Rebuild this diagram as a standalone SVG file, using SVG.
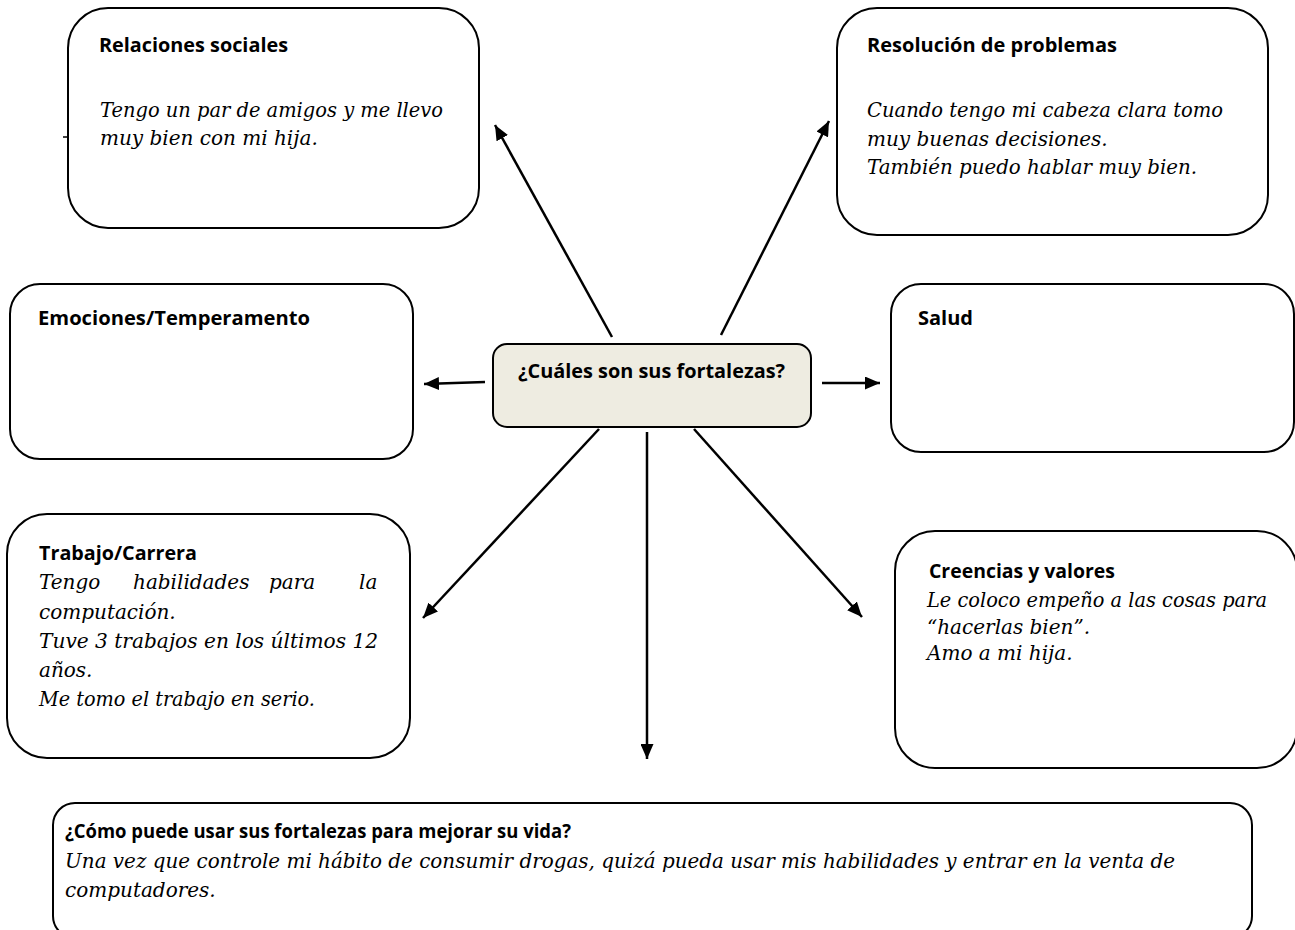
<svg xmlns="http://www.w3.org/2000/svg" width="1295" height="930" viewBox="0 0 1295 930">
<defs>
<marker id="ah" markerUnits="userSpaceOnUse" markerWidth="16" markerHeight="13" refX="15" refY="6.5" orient="auto">
<path d="M0,0 L15,6.5 L0,13 z" fill="#000"/>
</marker>
<style>
.box{fill:#fff;stroke:#000;stroke-width:2}
.center{fill:#EEECE1;stroke:#000;stroke-width:2}
.t{font-family:"Open Sans","Liberation Sans",sans-serif;font-weight:bold;font-size:19.5px;fill:#000}
.i{font-family:"DejaVu Serif","Liberation Serif",serif;font-style:italic;font-size:20px;fill:#000}
.c line{stroke:#000;stroke-width:2.5;marker-end:url(#ah)}
</style>
</defs>
<rect width="1295" height="930" fill="#fff"/>
<g id="relaciones">
<rect class="box" x="68" y="8" width="411" height="220" rx="40"/>
<text class="t" x="99" y="52" textLength="189" lengthAdjust="spacingAndGlyphs">Relaciones sociales</text>
<text class="i" x="100" y="117" textLength="343" lengthAdjust="spacingAndGlyphs">Tengo un par de amigos y me llevo</text>
<text class="i" x="100" y="145">muy bien con mi hija.</text>
<line x1="63" y1="137" x2="68" y2="137" stroke="#000" stroke-width="1.5"/>
</g>
<g id="resolucion">
<rect class="box" x="837" y="8" width="431" height="227" rx="40"/>
<text class="t" x="867" y="52" textLength="250" lengthAdjust="spacingAndGlyphs">Resolución de problemas</text>
<text class="i" x="867" y="117" textLength="356" lengthAdjust="spacingAndGlyphs">Cuando tengo mi cabeza clara tomo</text>
<text class="i" x="867" y="146">muy buenas decisiones.</text>
<text class="i" x="867" y="174" textLength="330" lengthAdjust="spacingAndGlyphs">También puedo hablar muy bien.</text>
</g>
<g id="emociones">
<rect class="box" x="10" y="284" width="403" height="175" rx="30"/>
<text class="t" x="38" y="325" textLength="272" lengthAdjust="spacingAndGlyphs">Emociones/Temperamento</text>
</g>
<g id="salud">
<rect class="box" x="891" y="284" width="403" height="168" rx="30"/>
<text class="t" x="918" y="325" textLength="55" lengthAdjust="spacingAndGlyphs">Salud</text>
</g>
<g id="fortalezas">
<rect class="center" x="493" y="344" width="318" height="83" rx="14"/>
<text class="t" x="518" y="378" textLength="267" lengthAdjust="spacingAndGlyphs">¿Cuáles son sus fortalezas?</text>
</g>
<g id="trabajo">
<rect class="box" x="7" y="514" width="403" height="244" rx="40"/>
<text class="t" x="39" y="560" textLength="158" lengthAdjust="spacingAndGlyphs">Trabajo/Carrera</text>
<text class="i" y="589"><tspan x="39">Tengo</tspan><tspan x="133">habilidades</tspan><tspan x="269">para</tspan><tspan x="359">la</tspan></text>
<text class="i" x="39" y="619">computación.</text>
<text class="i" x="39" y="648" textLength="339" lengthAdjust="spacingAndGlyphs">Tuve 3 trabajos en los últimos 12</text>
<text class="i" x="39" y="677">años.</text>
<text class="i" x="39" y="706" textLength="276" lengthAdjust="spacingAndGlyphs">Me tomo el trabajo en serio.</text>
</g>
<g id="creencias">
<rect class="box" x="895" y="531" width="402" height="237" rx="40"/>
<text class="t" x="929" y="578" textLength="186" lengthAdjust="spacingAndGlyphs">Creencias y valores</text>
<text class="i" x="927" y="607" textLength="340" lengthAdjust="spacingAndGlyphs">Le coloco empeño a las cosas para</text>
<text class="i" x="927" y="634">“hacerlas bien”.</text>
<text class="i" x="927" y="660">Amo a mi hija.</text>
</g>
<g id="mejorar">
<rect class="box" x="53" y="803" width="1199" height="135" rx="22"/>
<text class="t" x="65" y="838" textLength="506" lengthAdjust="spacingAndGlyphs">¿Cómo puede usar sus fortalezas para mejorar su vida?</text>
<text class="i" x="65" y="868" textLength="1110" lengthAdjust="spacingAndGlyphs">Una vez que controle mi hábito de consumir drogas, quizá pueda usar mis habilidades y entrar en la venta de</text>
<text class="i" x="65" y="897">computadores.</text>
</g>
<g id="connectors" class="c">
<line x1="612" y1="337" x2="495" y2="125"/>
<line x1="721" y1="335" x2="829" y2="121"/>
<line x1="485" y1="382" x2="424" y2="384"/>
<line x1="822" y1="383" x2="880" y2="383"/>
<line x1="599" y1="429" x2="423" y2="618"/>
<line x1="647" y1="432" x2="647" y2="759"/>
<line x1="694" y1="429" x2="862" y2="617"/>
</g>
</svg>
